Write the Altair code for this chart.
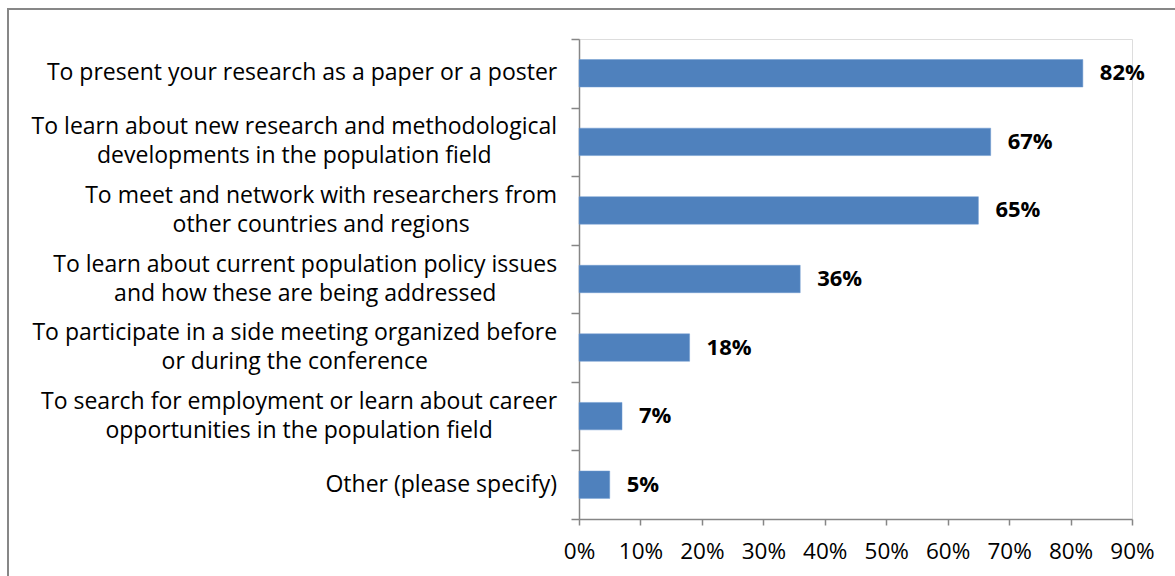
import altair as alt
import pandas as pd

# Survey answers: reasons for attending the conference (share of respondents)
reasons = [
    "To present your research as a paper or a poster",
    "To learn about new research and methodological\ndevelopments in the population field",
    "To meet and network with researchers from\nother countries and regions",
    "To learn about current population policy issues\nand how these are being addressed",
    "To participate in a side meeting organized before\nor during the conference",
    "To search for employment or learn about career\nopportunities in the population field",
    "Other (please specify)",
]
shares = [0.82, 0.67, 0.65, 0.36, 0.18, 0.07, 0.05]
x_ticks = [0.0, 0.1, 0.2, 0.3, 0.4, 0.5, 0.6, 0.7, 0.8, 0.9]

FONT = "Open Sans"
LABEL_SIZE = 23
LABEL_GAP = 22
LINE_H = 29

W, H = 553, 480
PAD = {"left": 579, "top": 39, "right": 43, "bottom": 57}
AXIS_GREY = "#868686"

# approximate Open Sans advance widths (em), used to centre label blocks
ADV = {
    " ": 0.26, "a": 0.556, "b": 0.613, "c": 0.48, "d": 0.613, "e": 0.561,
    "f": 0.339, "g": 0.548, "h": 0.613, "i": 0.253, "j": 0.253, "k": 0.525,
    "l": 0.253, "m": 0.93, "n": 0.613, "o": 0.604, "p": 0.613, "q": 0.613,
    "r": 0.408, "s": 0.477, "t": 0.353, "u": 0.613, "v": 0.5, "w": 0.778,
    "x": 0.517, "y": 0.5, "z": 0.47, "T": 0.525, "O": 0.78, "(": 0.296,
    ")": 0.296,
}


def text_width(s, size):
    return sum(ADV.get(ch, 0.56) for ch in s) * size


df = pd.DataFrame({"reason": reasons, "share": shares})
df["key"] = [r.replace("\n", " ") for r in reasons]
order = df["key"].tolist()
lines = [r.split("\n") for r in reasons]
# block is right-aligned against the axis, its lines centred within it
df["cx"] = [-(LABEL_GAP + max(text_width(s, LABEL_SIZE) for s in ls) / 2) for ls in lines]
# offset from the band's top edge so each block sits centred on its band
band = H / len(reasons)
df["dy"] = [band / 2 - (len(ls) - 1) * LINE_H / 2 for ls in lines]

y_enc = alt.Y(
    "key:N",
    sort=order,
    title=None,
    scale=alt.Scale(paddingInner=0, paddingOuter=0),
    axis=alt.Axis(
        labels=False,
        tickBand="extent",
        tickSize=8,
        tickColor=AXIS_GREY,
        domainColor=AXIS_GREY,
        domainWidth=1.5,
        tickWidth=1.5,
        grid=False,
    ),
)

bars = alt.Chart(df).mark_bar(
    color="#4F81BD", stroke="#6F9AD0", strokeWidth=0.5,
    height=alt.RelativeBandSize(0.4),
).encode(
    x=alt.X(
        "share:Q",
        title=None,
        scale=alt.Scale(domain=[0, 0.9], nice=False),
        axis=alt.Axis(
            values=x_ticks,
            format=".0%",
            tickSize=6,
            tickColor=AXIS_GREY,
            domainColor=AXIS_GREY,
            domainWidth=1.5,
            tickWidth=1.5,
            labelFont=FONT,
            labelFontSize=22.5,
            labelColor="#000000",
            labelPadding=15,
            labelOverlap=False,
            labelFlush=False,
            labelBound=False,
            grid=False,
        ),
    ),
    y=y_enc,
)

values = alt.Chart(df).mark_text(
    align="left", baseline="middle", dx=17, font=FONT, fontSize=22,
    fontWeight="bold", color="#000000",
).encode(
    x="share:Q",
    y=alt.Y("key:N", sort=order),
    text=alt.Text("share:Q", format=".0%"),
)

cat_labels = alt.Chart(df).mark_text(
    align="center", baseline="middle", font=FONT, fontSize=LABEL_SIZE,
    lineHeight=LINE_H, lineBreak="\n", color="#000000",
).encode(
    x=alt.X("cx:Q", scale=None),
    y=alt.Y("key:N", sort=order),
    yOffset=alt.YOffset("dy:Q", scale=None),
    text="reason:N",
)

frame = alt.Chart(pd.DataFrame({"f": [0]})).mark_rect(
    fill=None, stroke="#878787", strokeWidth=2,
).encode(
    x=alt.value(-571), y=alt.value(-30),
    x2=alt.value(W + 80), y2=alt.value(H + 80),
)

chart = alt.layer(frame, bars, values, cat_labels).properties(
    width=W, height=H,
    padding=PAD,
    autosize=alt.AutoSizeParams(type="none"),
).configure_view(stroke=None).configure(background="#FFFFFF")

chart.save("out.html", embed_options={"renderer": "svg", "actions": False})
